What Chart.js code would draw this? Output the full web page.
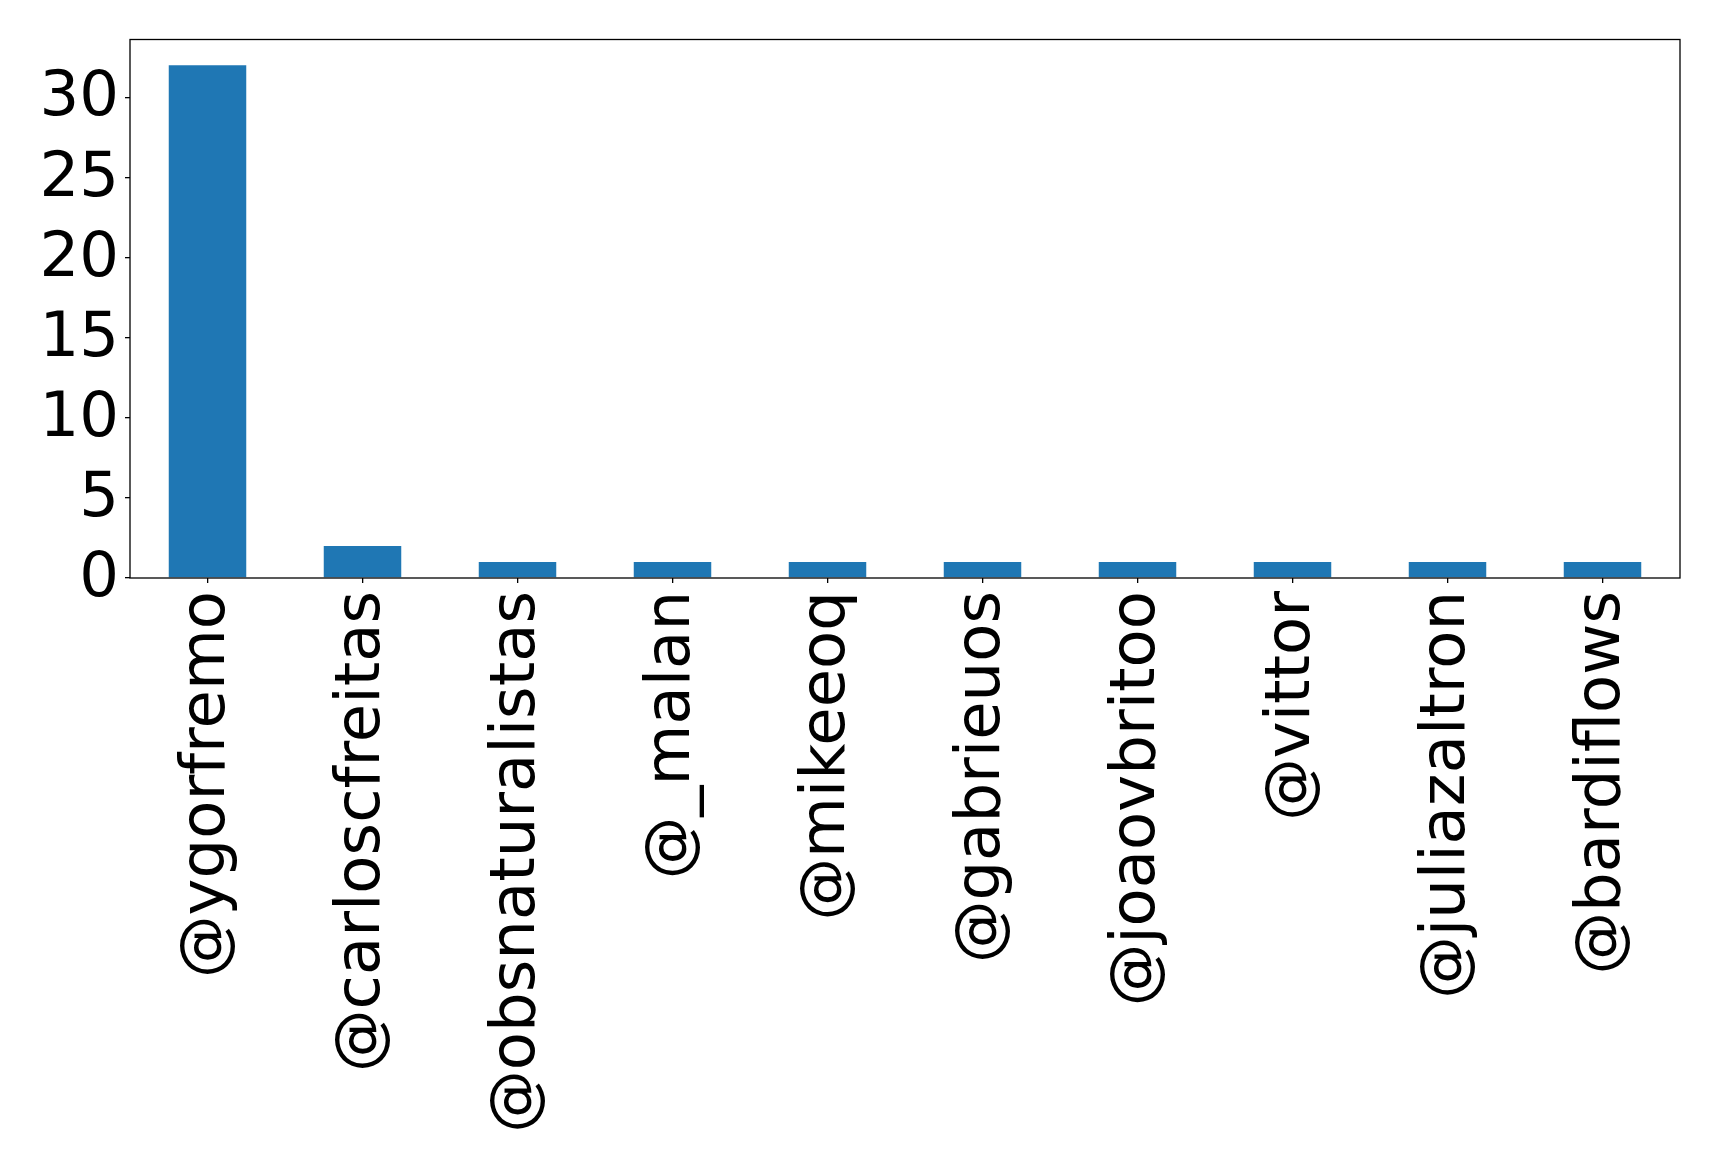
<!DOCTYPE html>
<html>
<head>
<meta charset="utf-8">
<script src="https://cdn.jsdelivr.net/npm/chart.js@4"></script>
<style>
   html, body { margin: 0; padding: 0; background: #fff; }
   #wrap { width: 1719px; height: 1169px; }
</style>
</head>
<body>
<div id="wrap"><canvas id="chart" width="1719" height="1169"></canvas></div>
<script>
const users = ["@ygorfremo", "@carloscfreitas", "@obsnaturalistas", "@_malan", "@mikeeoq",
   "@gabrieuos", "@joaovbritoo", "@vittor", "@juliazaltron", "@bardiflows"]
const counts = [32, 2, 1, 1, 1, 1, 1, 1, 1, 1]
const yTicks = [0, 5, 10, 15, 20, 25, 30]

// рамка вокруг области графика
const frame = {
   id: "frame",
   afterDraw(chart) {
      const a = chart.chartArea
      const ctx = chart.ctx
      ctx.save()
      ctx.strokeStyle = "#000"
      ctx.lineWidth = 1.3
      ctx.strokeRect(a.left, a.top, a.right - a.left, a.bottom - a.top)
      ctx.restore()
   }
}

const font = { family: "'DejaVu Sans'", size: 62.5 }

// без лишних отступов от подписей
function noPad(s) {
   s.paddingTop = 0
   s.paddingBottom = 0
   s.paddingLeft = 0
   s.paddingRight = 0
}

new Chart(document.getElementById("chart"), {
   type: "bar",
   data: {
      labels: users,
      datasets: [{
         data: counts,
         backgroundColor: "#1f77b4",
         categoryPercentage: 1,
         barPercentage: 0.5
      }]
   },
   options: {
      responsive: false,
      animation: false,
      layout: { padding: { top: 39.5, right: 39, left: 0, bottom: 0 } },
      plugins: { legend: { display: false }, tooltip: { enabled: false } },
      scales: {
         x: {
            afterFit: s => { s.height = 1169 - 578; noPad(s) },
            border: { display: false },
            grid: { offset: false, drawOnChartArea: false, drawTicks: true, tickLength: 5, color: "#000", lineWidth: 1.3 },
            ticks: { color: "#000", font, minRotation: 90, maxRotation: 90, padding: 8, autoSkip: false }
         },
         y: {
            min: 0,
            max: 33.6,
            afterFit: s => { s.width = 130; noPad(s) },
            afterBuildTicks: s => { s.ticks = yTicks.map(v => ({ value: v })) },
            border: { display: false },
            grid: { drawOnChartArea: false, drawTicks: true, tickLength: 5, color: "#000", lineWidth: 1.3 },
            ticks: { color: "#000", font, padding: 6, labelOffset: 2 }
         }
      }
   },
   plugins: [frame]
})
</script>
</body>
</html>
